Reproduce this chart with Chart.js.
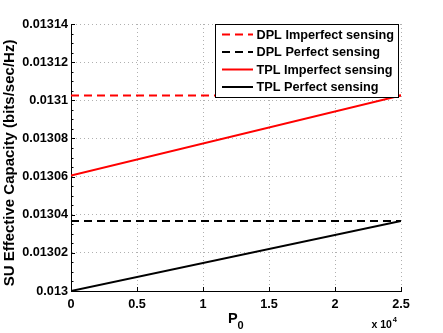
<!DOCTYPE html>
<html><head><meta charset="utf-8">
<script src="https://cdn.jsdelivr.net/npm/chart.js@4/dist/chart.umd.min.js"></script>
<style>html,body{margin:0;padding:0;background:#fff;overflow:hidden}#wrap{width:443px;height:333px;position:relative}</style>
</head><body><div id="wrap"><canvas id="c" width="443" height="333"></canvas></div>
<script>
const xValues = [0, 25000];
const dplImperfect = [0.0131025, 0.0131025];
const dplPerfect = [0.0130367, 0.0130367];
const tplImperfect = [0.0130605, 0.0131025];
const tplPerfect = [0.0130000, 0.0130367];
const seriesLabels = ['DPL Imperfect sensing', 'DPL Perfect sensing', 'TPL Imperfect sensing', 'TPL Perfect sensing'];
const xTickValues = [0, 5000, 10000, 15000, 20000, 25000];
const xTickLabels = ['0', '0.5', '1', '1.5', '2', '2.5'];
const yTickValues = [0.013, 0.01302, 0.01304, 0.01306, 0.01308, 0.0131, 0.01312, 0.01314];
const yTickLabels = ['0.013', '0.01302', '0.01304', '0.01306', '0.01308', '0.0131', '0.01312', '0.01314'];
const yTitle = 'SU Effective Capacity (bits/sec/Hz)';
const xTitleMain = 'P', xTitleSub = '0';
const xExpBase = 'x 10', xExpPow = '4';

const FONT = '"Liberation Sans", Arial, Helvetica, sans-serif';
const pts = arr => xValues.map((x, i) => ({x: x, y: arr[i]}));
const seriesData = [dplImperfect, dplPerfect, tplImperfect, tplPerfect];
const seriesColors = ['#ff0000', '#000000', '#ff0000', '#000000'];
const seriesDash = [[8, 5], [8, 5], [], []];

const datasets = seriesData.map((d, i) => ({
  label: seriesLabels[i],
  data: pts(d),
  borderColor: seriesColors[i],
  backgroundColor: seriesColors[i],
  borderWidth: 2,
  borderDash: seriesDash[i],
  pointRadius: 0,
  tension: 0,
  fill: false
}));

const decor = {
  id: 'decor',
  afterDatasetsDraw(chart) {
    const ctx = chart.ctx, a = chart.chartArea;
    const xs = chart.scales.x, ys = chart.scales.y;
    ctx.save();
    // tick marks inside
    ctx.strokeStyle = '#000'; ctx.lineWidth = 1; ctx.setLineDash([]);
    ctx.beginPath();
    for (let i = 0; i < yTickValues.length; i++) {
      const py = Math.round(ys.getPixelForValue(yTickValues[i])) + 0.5;
      ctx.moveTo(a.left, py); ctx.lineTo(a.left + 4, py);
      if (i < yTickValues.length - 1) {
        const step = (yTickValues[i + 1] - yTickValues[i]) / 4;
        for (let k = 1; k < 4; k++) {
          const my = Math.round(ys.getPixelForValue(yTickValues[i] + k * step)) + 0.5;
          ctx.moveTo(a.left, my); ctx.lineTo(a.left + 2.5, my);
        }
      }
    }
    for (let i = 0; i < xTickValues.length; i++) {
      const px = Math.round(xs.getPixelForValue(xTickValues[i])) + 0.5;
      ctx.moveTo(px, a.bottom); ctx.lineTo(px, a.bottom - 4);
    }
    ctx.stroke();

    // Y title
    ctx.fillStyle = '#000';
    ctx.font = 'bold 15px ' + FONT;
    ctx.textAlign = 'center'; ctx.textBaseline = 'middle';
    ctx.save(); ctx.translate(10, 163); ctx.rotate(-Math.PI / 2);
    ctx.fillText(yTitle, 0, 0); ctx.restore();

    // X title P_0
    ctx.textAlign = 'left'; ctx.textBaseline = 'alphabetic';
    ctx.font = 'bold 14.5px ' + FONT;
    ctx.fillText(xTitleMain, 228, 323);
    ctx.font = 'bold 11px ' + FONT;
    ctx.fillText(xTitleSub, 237.5, 329);

    // exponent
    ctx.font = 'bold 10.5px ' + FONT;
    ctx.fillText(xExpBase, 371.5, 328);
    const w = ctx.measureText(xExpBase).width;
    ctx.font = 'bold 7.5px ' + FONT;
    ctx.fillText(xExpPow, 371.5 + w + 0.8, 321.5);

    // legend
    const lx = 215.5, ly = 24.5, lw = 183, lh = 73;
    ctx.fillStyle = '#fff';
    ctx.fillRect(lx, ly, lw, lh);
    ctx.strokeStyle = '#000'; ctx.lineWidth = 1;
    ctx.strokeRect(lx, ly, lw, lh);
    const rows = [34.5, 52, 69.5, 87];
    ctx.font = 'bold 12.7px ' + FONT;
    ctx.textBaseline = 'middle';
    chart.data.datasets.forEach((ds, i) => {
      ctx.strokeStyle = ds.borderColor; ctx.lineWidth = 2;
      ctx.setLineDash(ds.borderDash || []);
      ctx.beginPath(); ctx.moveTo(222, rows[i]); ctx.lineTo(253, rows[i]); ctx.stroke();
      ctx.setLineDash([]);
      ctx.fillStyle = '#000';
      ctx.fillText(ds.label, 256.5, rows[i] + 0.5);
    });
    ctx.restore();
  }
};

new Chart(document.getElementById('c'), {
  type: 'line',
  data: {datasets: datasets},
  options: {
    responsive: false, animation: false, devicePixelRatio: 1,
    layout: {padding: {top: 24, right: 42, left: 0, bottom: 0}},
    plugins: {legend: {display: false}, tooltip: {enabled: false}},
    scales: {
      x: {
        type: 'linear', min: 0, max: 25000,
        afterBuildTicks: s => { s.ticks = xTickValues.map(v => ({value: v})); },
        afterFit: s => { s.height = 42; },
        ticks: {
          callback: (v, i) => xTickLabels[i],
          color: '#000', padding: 6, maxRotation: 0,
          font: {family: FONT, weight: 'bold', size: 12.7}
        },
        grid: {color: '#b0b0b0', lineWidth: 1, drawTicks: false},
        border: {display: true, color: '#000', width: 1, dash: [1, 3]}
      },
      y: {
        type: 'linear', min: 0.013, max: 0.01314,
        afterBuildTicks: s => { s.ticks = yTickValues.map(v => ({value: v})); },
        afterFit: s => { s.width = 71; },
        ticks: {
          callback: (v, i) => yTickLabels[i],
          color: '#000', padding: 3,
          font: {family: FONT, weight: 'bold', size: 12.7}
        },
        grid: {color: '#b0b0b0', lineWidth: 1, drawTicks: false},
        border: {display: true, color: '#000', width: 1, dash: [1, 3]}
      }
    }
  },
  plugins: [decor]
});
</script></body></html>
